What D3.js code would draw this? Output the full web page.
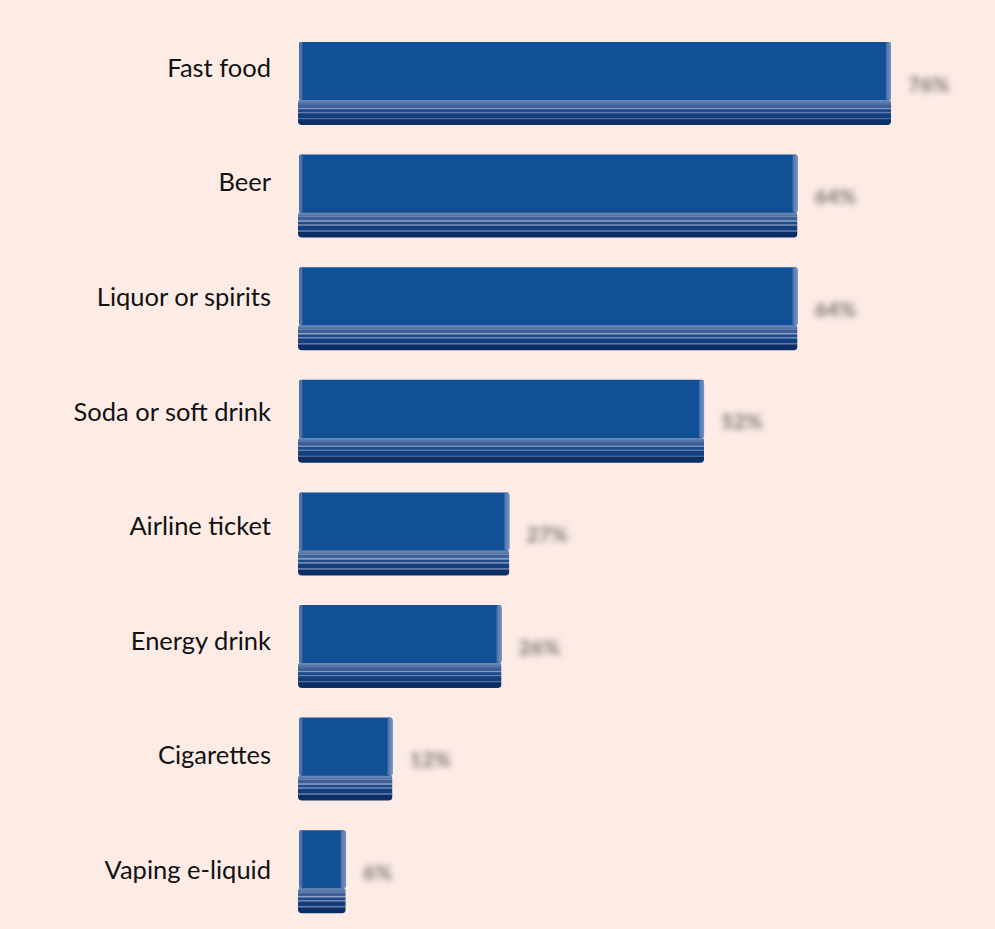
<!DOCTYPE html>
<html>
<head>
<meta charset="utf-8">
<script src="https://cdn.jsdelivr.net/npm/d3@7"></script>
<style>
  html, body { margin: 0; padding: 0; background: #fdece6; }
  svg { display: block; }
</style>
</head>
<body>
<svg id="chart" width="995" height="929"></svg>
<script>
// Share of respondents per product category
const categories = ["Fast food", "Beer", "Liquor or spirits", "Soda or soft drink",
                    "Airline ticket", "Energy drink", "Cigarettes", "Vaping e-liquid"];
const values = [76, 64, 64, 52, 27, 26, 12, 6];
const valueLabels = values.map(v => v + "%");

const svg = d3.select("#chart");
const W = 995, H = 929;

svg.append("rect").attr("width", W).attr("height", H).attr("fill", "#fdece6");

const x = d3.scaleLinear().domain([0, 76]).range([299, 891]);
const y = d3.scaleBand().domain(categories).range([42, 913.2]).paddingInner(0.263).paddingOuter(0);
// category text sits on its own slightly wider rhythm
const yLabel = d3.scalePoint().domain(categories).range([68, 870]);

const defs = svg.append("defs");
const blur = defs.append("filter").attr("id", "soft").attr("x", "-30%").attr("y", "-60%")
  .attr("width", "160%").attr("height", "220%");
blur.append("feGaussianBlur").attr("stdDeviation", 3.2);

const sideGrad = defs.append("linearGradient").attr("id", "rightSide")
  .attr("x1", 0).attr("x2", 1).attr("y1", 0).attr("y2", 0);
sideGrad.append("stop").attr("offset", "0%").attr("stop-color", "#4a70ab");
sideGrad.append("stop").attr("offset", "100%").attr("stop-color", "#7593c0");

const baseGrad = defs.append("linearGradient").attr("id", "baseTop")
  .attr("x1", 0).attr("x2", 0).attr("y1", 0).attr("y2", 1);
baseGrad.append("stop").attr("offset", "0%").attr("stop-color", "#7b93bb");
baseGrad.append("stop").attr("offset", "100%").attr("stop-color", "#4b6ca2");

const data = categories.map((c, i) => ({ cat: c, value: values[i], label: valueLabels[i] }));

const bars = svg.selectAll("g.bar").data(data).join("g").attr("class", "bar")
  .attr("transform", d => `translate(0,${y(d.cat)})`);

const bw = y.bandwidth();          // full bar height incl. base
const faceH = bw * 0.70;           // front face height
const baseH = bw - faceH;

// base slab with stripes, then the front face with bevelled sides
bars.each(function(d) {
  const g = d3.select(this);
  const x0 = x(0), x1 = x(d.value);
  const w = x1 - x0;
  const clipId = "clip" + categories.indexOf(d.cat);
  defs.append("clipPath").attr("id", clipId)
    .append("rect").attr("x", x0 - 1).attr("y", faceH - 1).attr("width", w + 1)
    .attr("height", baseH + 1).attr("rx", 4).attr("ry", 4);
  const base = g.append("g").attr("clip-path", `url(#${clipId})`);
  const stripes = [
    [0, 5, "url(#baseTop)"],
    [5, 4, "#3d609a"],
    [9, 1, "#7994c0"],
    [10, 3, "#1f4a8b"],
    [13, 1, "#5777aa"],
    [14, 5, "#123f80"],
    [19, 1, "#3c5f96"],
    [20, baseH + 2, "#0b2e66"]
  ];
  base.selectAll("rect").data(stripes).join("rect")
    .attr("x", x0 - 1).attr("width", w + 1)
    .attr("y", s => faceH - 1 + s[0]).attr("height", s => s[1])
    .attr("fill", s => s[2]);

  g.append("rect").attr("x", x0).attr("y", 0).attr("width", w).attr("height", faceH)
    .attr("rx", 3).attr("fill", "#114f96");
  g.append("rect").attr("x", x0).attr("y", 0).attr("width", 4).attr("height", faceH)
    .attr("rx", 2).attr("fill", "#4f72aa");
  g.append("rect").attr("x", x0 + 3).attr("y", 0).attr("width", 1).attr("height", faceH)
    .attr("fill", "#2a5a9c");
  g.append("rect").attr("x", x1 - 5).attr("y", 0).attr("width", 5).attr("height", faceH)
    .attr("rx", 2).attr("fill", "url(#rightSide)");
});

// category labels
svg.selectAll("text.cat").data(data).join("text").attr("class", "cat")
  .attr("x", 271).attr("y", d => yLabel(d.cat))
  .attr("dy", "0.35em")
  .attr("text-anchor", "end")
  .attr("font-family", "Lato, 'Noto Sans', sans-serif")
  .attr("font-size", 25.5)
  .attr("fill", "#111")
  .text(d => d.cat);

// value labels (softened)
bars.append("text")
  .attr("x", d => x(d.value) + 17).attr("y", 41)
  .attr("dominant-baseline", "central")
  .attr("font-family", "Lato, 'Noto Sans', sans-serif")
  .attr("font-weight", "900")
  .attr("font-size", 21)
  .attr("fill", "#7f7876")
  .attr("filter", "url(#soft)")
  .text(d => d.label);
</script>
</body>
</html>
